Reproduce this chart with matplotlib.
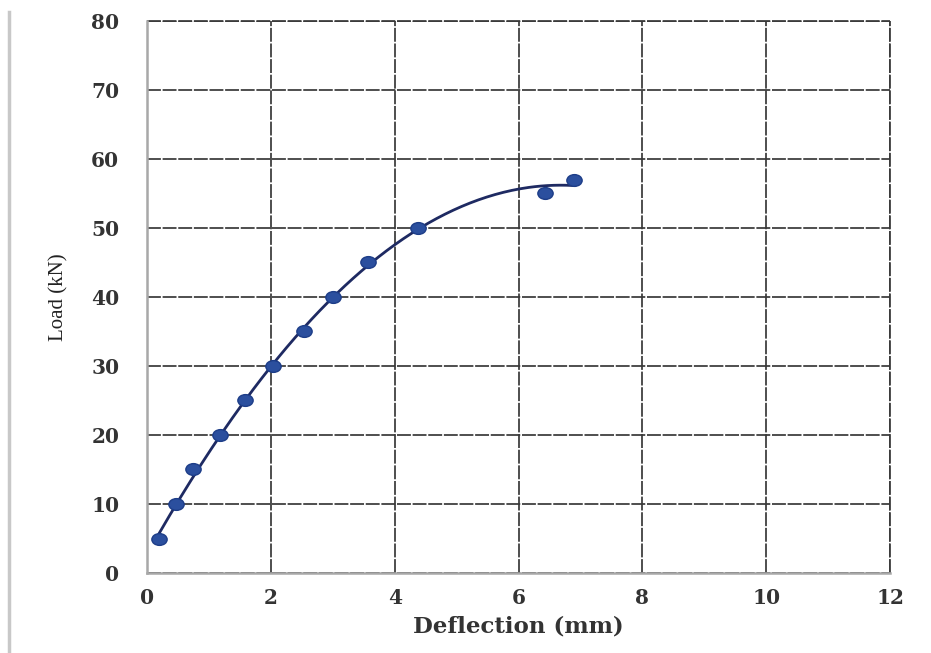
import numpy as np
import matplotlib
matplotlib.use('Agg')
import matplotlib.pyplot as plt
from matplotlib.lines import Line2D
from matplotlib.path import Path
from matplotlib.transforms import Affine2D

# measured points, load vs deflection
deflection = [0.2, 0.47, 0.74, 1.18, 1.58, 2.04, 2.53, 3.0, 3.57, 4.38, 6.43, 6.9]
load = [5, 10, 15, 20, 25, 30, 35, 40, 45, 50, 55, 57]

xticks = [0, 2, 4, 6, 8, 10, 12]
yticks = [0, 10, 20, 30, 40, 50, 60, 70, 80]

fig = plt.figure(figsize=(9.31, 6.53), dpi=100)
ax1 = fig.add_axes([0.158, 0.1225, 0.798, 0.8455])

# slightly wide dots, like the original
ellipse = Path.unit_circle().transformed(Affine2D().scale(1.3, 1.0))

# polynomial trendline through the points
coef = np.polyfit(deflection, load, 2)
xs = np.linspace(min(deflection), max(deflection), 200)
ax1.plot(xs, np.polyval(coef, xs), color='#1e2a62', lw=2, zorder=3)
ax1.plot(deflection, load, linestyle='none', marker=ellipse, color='#2b4f9e',
         markersize=11, markeredgecolor='#1d3d88', zorder=4)

ax1.set_xlim(0, 12)
ax1.set_ylim(0, 80)
ax1.set_xticks(xticks)
ax1.set_yticks(yticks)
ax1.set_xticklabels([str(v) for v in xticks], family='DejaVu Serif', fontweight='bold',
                    fontsize=14.5, color='#333333')
ax1.set_yticklabels([str(v) for v in yticks], family='DejaVu Serif', fontweight='bold',
                    fontsize=14.5, color='#333333')
ax1.tick_params(axis='x', length=0, pad=11)
ax1.tick_params(axis='y', length=0, pad=20)

gstyle = dict(color='#383838', linestyle=(0, (8, 1)), linewidth=1.25)
ax1.grid(True, **gstyle)
ax1.set_axisbelow(True)
for s in ['top', 'right']:
    ax1.spines[s].set_visible(False)
for s in ['left', 'bottom']:
    ax1.spines[s].set_color('#a8a8a8')
    ax1.spines[s].set_linewidth(1.8)
# top and right edges show as grid lines
ax1.axhline(80, clip_on=False, **gstyle)
ax1.axvline(12, clip_on=False, **gstyle)

ax1.set_xlabel('Deflection (mm)', fontsize=16.5, fontweight='bold', family='DejaVu Serif',
               color='#333333', labelpad=5)
ax1.set_ylabel('Load (kN)', fontsize=15, family='Liberation Serif', color='#222222',
               labelpad=16)

# page border line at left
fig.add_artist(Line2D([0.0095, 0.0095], [0.0, 0.982], color='#c8c8c8', lw=2.5))

plt.savefig('out.png', dpi=100)
